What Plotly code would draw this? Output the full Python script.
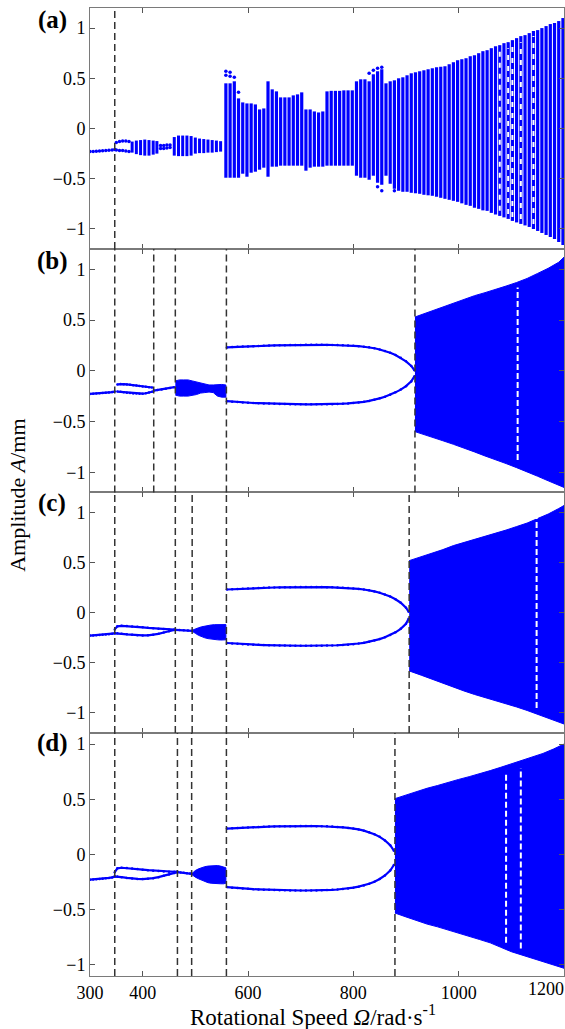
import plotly.graph_objects as go

BLUE = '#0000ff'

# ---------------- panel (a) data ----------------
a_p1_w = [300, 306, 312, 318, 324, 330, 336, 342, 347]
a_p1_y = [-0.23, -0.228, -0.226, -0.224, -0.222, -0.22, -0.217, -0.214, -0.21]
a_p2_w = [350, 356, 362, 368, 374]
a_p2_up = [-0.14, -0.13, -0.125, -0.125, -0.13]
a_p2_lo = [-0.215, -0.22, -0.22, -0.225, -0.23]
a_q_w = [434, 440, 446, 452]
a_q_up = [-0.17, -0.168, -0.165, -0.165]
a_q_lo = [-0.2, -0.198, -0.195, -0.19]
a_col1_w = [380, 388, 396, 404, 412, 420, 427]
a_col1_hi = [-0.13, -0.12, -0.115, -0.11, -0.115, -0.12, -0.125]
a_col1_lo = [-0.24, -0.255, -0.265, -0.27, -0.27, -0.26, -0.25]
a_col2_w = [460, 468, 476, 484, 492, 500, 508, 516, 524, 532, 540, 548]
a_col2_hi = [-0.085, -0.07, -0.07, -0.07, -0.075, -0.09, -0.10, -0.105, -0.11, -0.115, -0.12, -0.126]
a_col2_lo = [-0.27, -0.275, -0.275, -0.275, -0.27, -0.25, -0.245, -0.245, -0.24, -0.24, -0.235, -0.23]
a_col3_w = [558, 566, 574, 582, 590, 598, 606, 614, 622, 630, 638, 646, 654, 662, 670,
            678, 686, 694, 702, 710, 718, 726, 734, 742, 750, 758, 766, 774, 782, 790,
            798, 806, 814, 822, 830, 838, 846, 854, 862, 870, 878, 886, 894, 902, 910,
            918, 926, 934, 942, 950, 958, 966, 974, 982, 990, 998, 1006, 1014, 1022, 1030,
            1038, 1046, 1054, 1062, 1070, 1078, 1086, 1094, 1102, 1110, 1118, 1126, 1134, 1142, 1150,
            1158, 1166, 1174, 1182, 1190, 1198]
a_col3_hi = [0.45, 0.45, 0.47, 0.30, 0.26, 0.25, 0.25, 0.24, 0.19, 0.20, 0.47, 0.39, 0.37, 0.31, 0.31,
             0.31, 0.33, 0.34, 0.36, 0.19, 0.19, 0.17, 0.16, 0.17, 0.37, 0.375, 0.375, 0.375, 0.38, 0.38,
             0.38, 0.47, 0.49, 0.49, 0.47, 0.54, 0.57, 0.59, 0.45, 0.47, 0.48, 0.50, 0.51, 0.53, 0.55,
             0.56, 0.57, 0.58, 0.59, 0.60, 0.61, 0.615, 0.62, 0.64, 0.66, 0.68, 0.69, 0.70, 0.72, 0.73,
             0.75, 0.77, 0.78, 0.80, 0.82, 0.83, 0.85, 0.86, 0.88, 0.90, 0.92, 0.93, 0.95, 0.97, 0.98,
             1.00, 1.02, 1.04, 1.05, 1.07, 1.10]
a_col3_lo = [-0.49, -0.49, -0.49, -0.49, -0.45, -0.48, -0.44, -0.43, -0.41, -0.39, -0.48, -0.38, -0.38, -0.37, -0.37,
             -0.37, -0.37, -0.37, -0.37, -0.42, -0.39, -0.38, -0.38, -0.38, -0.37, -0.37, -0.37, -0.37, -0.37, -0.37,
             -0.37, -0.47, -0.49, -0.49, -0.51, -0.47, -0.54, -0.56, -0.47, -0.55, -0.60, -0.62, -0.63, -0.63, -0.64,
             -0.645, -0.65, -0.66, -0.665, -0.67, -0.68, -0.69, -0.70, -0.71, -0.72, -0.73, -0.745, -0.76, -0.77, -0.79,
             -0.80, -0.815, -0.82, -0.84, -0.855, -0.87, -0.885, -0.90, -0.92, -0.935, -0.95, -0.965, -0.98, -1.00, -1.02,
             -1.04, -1.06, -1.08, -1.10, -1.13, -1.16]
a_out_w = [558, 558, 566, 566, 574, 582, 830, 838, 846, 854, 846, 854, 878]
a_out_y = [0.57, 0.53, 0.56, 0.52, 0.51, 0.36, 0.55, 0.58, 0.60, 0.61, -0.58, -0.62, -0.62]
a_gap_w = [1078, 1094, 1102, 1118, 1142]
a_gap_lo = [-0.82, -0.85, -0.88, -0.90, -0.95]
a_gap_hi = [0.78, 0.80, 0.84, 0.86, 0.92]
a_dash = [347]

# ---------------- panel (b) data ----------------
b_p1_w = [300, 306, 312, 318, 324, 330, 336, 342, 347]
b_p1_y = [-0.228, -0.226, -0.224, -0.222, -0.22, -0.217, -0.214, -0.21, -0.205]
b_br_w = [352, 358, 364, 370, 376, 382, 388, 394, 400, 406, 412, 418]
b_br_up = [-0.135, -0.13, -0.132, -0.135, -0.138, -0.142, -0.146, -0.15, -0.154, -0.158, -0.162, -0.165]
b_br_lo = [-0.205, -0.208, -0.212, -0.216, -0.22, -0.223, -0.225, -0.226, -0.226, -0.222, -0.215, -0.207]
b_ln_w = [421, 428, 436, 444, 452, 460]
b_ln_y = [-0.195, -0.19, -0.185, -0.178, -0.17, -0.162]
b_blob_w = [462, 470, 478, 486, 494, 502, 510, 518, 526, 534, 542, 550, 558]
b_blob_hi = [-0.10, -0.09, -0.09, -0.09, -0.10, -0.11, -0.12, -0.13, -0.14, -0.14, -0.135, -0.135, -0.14]
b_blob_lo = [-0.24, -0.25, -0.25, -0.25, -0.245, -0.235, -0.22, -0.215, -0.21, -0.215, -0.25, -0.26, -0.26]
b_el_w = [560, 570, 580, 590, 600, 610, 620, 630, 640, 650, 660, 670, 680, 690, 700, 710, 720, 730, 740,
          750, 760, 770, 780, 790, 800, 810, 820, 830, 840, 850, 860, 870, 880, 890, 900, 910, 916]
b_el_up = [0.230, 0.233, 0.236, 0.238, 0.240, 0.242, 0.244, 0.246, 0.248, 0.250, 0.251, 0.252, 0.253, 0.254,
           0.255, 0.256, 0.256, 0.256, 0.256, 0.255, 0.254, 0.253, 0.251, 0.249, 0.246, 0.242, 0.237, 0.231,
           0.222, 0.210, 0.195, 0.177, 0.155, 0.127, 0.093, 0.048, 0.005]
b_el_lo = [-0.300, -0.305, -0.309, -0.312, -0.315, -0.318, -0.320, -0.322, -0.324, -0.326, -0.327, -0.328,
           -0.329, -0.330, -0.330, -0.331, -0.331, -0.331, -0.330, -0.330, -0.329, -0.327, -0.325, -0.322,
           -0.318, -0.313, -0.306, -0.297, -0.286, -0.272, -0.256, -0.236, -0.213, -0.186, -0.152, -0.105, -0.055]
b_ch_w = [917, 930, 950, 970, 990, 1010, 1030, 1050, 1070, 1090, 1110, 1130, 1150, 1170, 1190, 1200]
b_ch_hi = [0.53, 0.555, 0.59, 0.63, 0.67, 0.705, 0.74, 0.77, 0.80, 0.835, 0.87, 0.91, 0.96, 1.01, 1.07, 1.12]
b_ch_lo = [-0.60, -0.62, -0.655, -0.69, -0.725, -0.76, -0.80, -0.84, -0.88, -0.915, -0.955, -0.995,
           -1.04, -1.085, -1.13, -1.15]
b_gap_w = [1112]
b_gap_lo = [-0.88]
b_gap_hi = [0.82]
b_dash = [347, 421, 462, 559, 917]

# ---------------- panel (c) data ----------------
c_p1_w = [300, 306, 312, 318, 324, 330, 336, 342, 347]
c_p1_y = [-0.228, -0.226, -0.224, -0.222, -0.22, -0.217, -0.214, -0.21, -0.205]
c_br_w = [347, 352, 360, 370, 380, 390, 400, 410, 420, 430, 440, 450, 460]
c_br_up = [-0.166, -0.135, -0.13, -0.132, -0.136, -0.14, -0.145, -0.15, -0.155, -0.16, -0.163, -0.166, -0.168]
c_br_lo = [-0.205, -0.205, -0.21, -0.215, -0.22, -0.224, -0.226, -0.225, -0.22, -0.21, -0.197, -0.184, -0.172]
c_ln_w = [462, 470, 478, 486, 494]
c_ln_y = [-0.17, -0.172, -0.175, -0.177, -0.18]
c_blob_w = [494, 500, 506, 512, 518, 524, 530, 536, 542, 548, 554, 558]
c_blob_hi = [-0.175, -0.16, -0.15, -0.14, -0.132, -0.126, -0.122, -0.119, -0.117, -0.116, -0.116, -0.118]
c_blob_lo = [-0.185, -0.205, -0.225, -0.24, -0.25, -0.258, -0.264, -0.268, -0.27, -0.272, -0.272, -0.27]
c_el_w = [560, 570, 580, 590, 600, 610, 620, 630, 640, 650, 660, 670, 680, 690, 700, 710, 720, 730, 740,
          750, 760, 770, 780, 790, 800, 810, 820, 830, 840, 850, 860, 870, 880, 890, 900, 905]
c_el_up = [0.232, 0.235, 0.238, 0.240, 0.243, 0.245, 0.247, 0.249, 0.251, 0.252, 0.253, 0.254, 0.255, 0.256,
           0.256, 0.257, 0.257, 0.257, 0.256, 0.255, 0.254, 0.252, 0.250, 0.247, 0.243, 0.238, 0.232, 0.224,
           0.213, 0.200, 0.183, 0.162, 0.135, 0.100, 0.050, 0.010]
c_el_lo = [-0.302, -0.306, -0.310, -0.313, -0.316, -0.318, -0.320, -0.322, -0.324, -0.325, -0.326, -0.327,
           -0.328, -0.328, -0.329, -0.329, -0.329, -0.329, -0.328, -0.327, -0.326, -0.324, -0.321, -0.318,
           -0.313, -0.307, -0.300, -0.290, -0.278, -0.263, -0.245, -0.222, -0.195, -0.160, -0.110, -0.060]
c_ch_w = [906, 930, 950, 970, 990, 1010, 1030, 1050, 1070, 1090, 1110, 1130, 1150, 1170, 1190, 1200]
c_ch_hi = [0.52, 0.56, 0.595, 0.63, 0.67, 0.70, 0.73, 0.765, 0.795, 0.825, 0.86, 0.895, 0.94, 0.985, 1.04, 1.07]
c_ch_lo = [-0.58, -0.625, -0.665, -0.70, -0.74, -0.78, -0.815, -0.85, -0.88, -0.91, -0.94, -0.975,
           -1.01, -1.05, -1.09, -1.11]
c_gap_w = [1148]
c_gap_lo = [-0.95]
c_gap_hi = [0.95]
c_dash = [347, 462, 494, 559, 906]

# ---------------- panel (d) data ----------------
d_p1_w = [300, 306, 312, 318, 324, 330, 336, 342, 347]
d_p1_y = [-0.228, -0.226, -0.224, -0.222, -0.22, -0.216, -0.212, -0.207, -0.2]
d_br_w = [347, 352, 360, 370, 380, 390, 400, 410, 420, 430, 440, 450, 460, 466]
d_br_up = [-0.16, -0.125, -0.12, -0.123, -0.127, -0.132, -0.137, -0.142, -0.146, -0.15, -0.153, -0.155, -0.156, -0.155]
d_br_lo = [-0.2, -0.2, -0.205, -0.212, -0.218, -0.221, -0.222, -0.22, -0.214, -0.205, -0.193, -0.18, -0.167, -0.16]
d_ln_w = [466, 472, 478, 484, 490, 493]
d_ln_y = [-0.16, -0.163, -0.166, -0.169, -0.172, -0.175]
d_blob_w = [493, 500, 506, 512, 518, 524, 530, 536, 542, 548, 554, 558]
d_blob_hi = [-0.175, -0.145, -0.13, -0.118, -0.11, -0.105, -0.102, -0.10, -0.10, -0.105, -0.11, -0.12]
d_blob_lo = [-0.18, -0.205, -0.22, -0.235, -0.245, -0.255, -0.26, -0.262, -0.265, -0.265, -0.265, -0.26]
d_el_w = [560, 570, 580, 590, 600, 610, 620, 630, 640, 650, 660, 670, 680, 690, 700, 710, 720, 730, 740,
          750, 760, 770, 780, 790, 800, 810, 820, 830, 840, 850, 860, 870, 877]
d_el_up = [0.235, 0.238, 0.241, 0.243, 0.245, 0.247, 0.249, 0.251, 0.253, 0.254, 0.255, 0.256, 0.257, 0.257,
           0.258, 0.258, 0.258, 0.257, 0.256, 0.255, 0.253, 0.250, 0.246, 0.241, 0.235, 0.227, 0.216, 0.202,
           0.184, 0.160, 0.128, 0.085, 0.035]
d_el_lo = [-0.295, -0.300, -0.304, -0.308, -0.311, -0.314, -0.316, -0.318, -0.320, -0.322, -0.323, -0.324,
           -0.325, -0.325, -0.326, -0.326, -0.326, -0.325, -0.324, -0.322, -0.320, -0.317, -0.313, -0.307,
           -0.300, -0.291, -0.280, -0.265, -0.246, -0.222, -0.190, -0.145, -0.095]
d_ch_w = [879, 900, 920, 940, 960, 980, 1000, 1020, 1040, 1060, 1080, 1100, 1120, 1140, 1160, 1180, 1200]
d_ch_hi = [0.506, 0.54, 0.57, 0.60, 0.625, 0.655, 0.68, 0.705, 0.73, 0.76, 0.79, 0.82, 0.85, 0.88, 0.915, 0.955, 1.0]
d_ch_lo = [-0.53, -0.565, -0.60, -0.63, -0.655, -0.685, -0.71, -0.74, -0.77, -0.80, -0.84, -0.88, -0.91,
           -0.94, -0.97, -1.0, -1.03]
d_gap_w = [1090, 1118]
d_gap_lo = [-0.8, -0.85]
d_gap_hi = [0.75, 0.78]
d_dash = [347, 466, 493, 559, 879]

x_ticks = [300, 400, 600, 800, 1000]
x_ticktext = ['300', '400', '600', '800', '1000']
x_last_label = '1200'
y_ticks = [-1, -0.5, 0, 0.5, 1]
y_ticktext = ['\u22121', '\u22120.5', '0', '0.5', '1']
panel_labels = ['(a)', '(b)', '(c)', '(d)']
y_ranges = [[-1.2, 1.2], [-1.2, 1.2], [-1.2, 1.2], [-1.1, 1.1]]

fig = go.Figure()


def segs(ws, lo, hi):
    xs, ys = [], []
    for w, l, h in zip(ws, lo, hi):
        xs += [w, w, None]
        ys += [l, h, None]
    return xs, ys


def add_cols(ws, lo, hi, k, width, color=BLUE, dash=None):
    xs, ys = segs(ws, lo, hi)
    fig.add_trace(go.Scatter(x=xs, y=ys, mode='lines', xaxis='x' + k, yaxis='y' + k,
                             line=dict(color=color, width=width, dash=dash), hoverinfo='skip',
                             showlegend=False))


def add_dots(ws, ys, k, size=3.5):
    fig.add_trace(go.Scatter(x=ws, y=ys, mode='markers', xaxis='x' + k, yaxis='y' + k,
                             marker=dict(color=BLUE, size=size), showlegend=False, hoverinfo='skip'))


def add_line(ws, ys, k, width=2.2):
    fig.add_trace(go.Scatter(x=ws, y=ys, mode='lines+markers', xaxis='x' + k, yaxis='y' + k,
                             line=dict(color=BLUE, width=width), marker=dict(color=BLUE, size=2.5),
                             showlegend=False, hoverinfo='skip'))


def add_fill(ws, lo, hi, k):
    fig.add_trace(go.Scatter(x=ws + ws[::-1], y=hi + lo[::-1], mode='lines', fill='toself',
                             fillcolor=BLUE, line=dict(color=BLUE, width=1),
                             xaxis='x' + k, yaxis='y' + k, showlegend=False, hoverinfo='skip'))


# panel a  (axis suffix '')
ka = ''
add_dots(a_p1_w, a_p1_y, ka)
add_dots(a_p2_w, a_p2_up, ka)
add_dots(a_p2_w, a_p2_lo, ka)
add_dots(a_q_w, a_q_up, ka)
add_dots(a_q_w, a_q_lo, ka)
add_cols(a_col1_w, a_col1_lo, a_col1_hi, ka, 3)
add_cols(a_col2_w, a_col2_lo, a_col2_hi, ka, 3)
add_cols(a_col3_w, a_col3_lo, a_col3_hi, ka, 3.2)
add_dots(a_out_w, a_out_y, ka, size=3.5)
add_cols(a_gap_w, a_gap_lo, a_gap_hi, ka, 2, color='white', dash='5px,6px')

# panels b, c, d
for k, p1w, p1y, brw, bru, brl, lnw, lny, blw, blh, bll, elw, elu, ell, chw, chh, chl, gw, gl, gh in [
    ('2', b_p1_w, b_p1_y, b_br_w, b_br_up, b_br_lo, b_ln_w, b_ln_y, b_blob_w, b_blob_hi, b_blob_lo,
     b_el_w, b_el_up, b_el_lo, b_ch_w, b_ch_hi, b_ch_lo, b_gap_w, b_gap_lo, b_gap_hi),
    ('3', c_p1_w, c_p1_y, c_br_w, c_br_up, c_br_lo, c_ln_w, c_ln_y, c_blob_w, c_blob_hi, c_blob_lo,
     c_el_w, c_el_up, c_el_lo, c_ch_w, c_ch_hi, c_ch_lo, c_gap_w, c_gap_lo, c_gap_hi),
    ('4', d_p1_w, d_p1_y, d_br_w, d_br_up, d_br_lo, d_ln_w, d_ln_y, d_blob_w, d_blob_hi, d_blob_lo,
     d_el_w, d_el_up, d_el_lo, d_ch_w, d_ch_hi, d_ch_lo, d_gap_w, d_gap_lo, d_gap_hi)]:
    add_line(p1w, p1y, k)
    add_line(brw, bru, k)
    add_line(brw, brl, k)
    add_line(lnw, lny, k)
    add_fill(blw, bll, blh, k)
    add_line(elw, elu, k)
    add_line(elw, ell, k)
    add_fill(chw, chl, chh, k)
    add_cols(gw, gl, gh, k, 2, color='white', dash='6px,3px')

# dashed bifurcation markers
shapes = []
for k, dl in [('', a_dash), ('2', b_dash), ('3', c_dash), ('4', d_dash)]:
    for w in dl:
        shapes.append(dict(type='line', xref='x' + k, yref='y' + k + ' domain', x0=w, x1=w, y0=0, y1=1,
                           line=dict(color='#333333', width=1.5, dash='7px,4px'), layer='above'))

FONT = 'Liberation Serif'
domains = [[0.751, 1.0], [0.4995, 0.751], [0.251, 0.4995], [0.0, 0.251]]
axis_common = dict(showline=True, linecolor='#7a7a7a', linewidth=1, mirror='ticks', ticks='inside',
                   ticklen=5, tickcolor='#555555', showgrid=False, zeroline=False)
layout = dict(width=565, height=1029, margin=dict(l=90, r=1, t=8, b=53),
              plot_bgcolor='white', paper_bgcolor='white', showlegend=False,
              font=dict(family=FONT, size=18, color='black'), shapes=shapes)
for i, k in enumerate(['', '2', '3', '4']):
    layout['xaxis' + k] = dict(axis_common, range=[300, 1200], domain=[0, 1], anchor='y' + k,
                               tickvals=x_ticks, ticktext=x_ticktext, showticklabels=(k == '4'),
                               tickfont=dict(family=FONT, size=18))
    layout['yaxis' + k] = dict(axis_common, range=y_ranges[i], domain=domains[i], anchor='x' + k,
                               tickvals=y_ticks, ticktext=y_ticktext,
                               tickfont=dict(family=FONT, size=18))

ann = []
label_y = [0.9876, 0.7386, 0.4886, 0.2407]
for lab, yy in zip(panel_labels, label_y):
    ann.append(dict(text='<b>' + lab + '</b>', xref='paper', yref='paper', x=-0.08, y=yy,
                    showarrow=False, font=dict(family=FONT, size=25, color='black'),
                    xanchor='center', yanchor='middle'))
ann.append(dict(text=x_last_label, xref='paper', yref='paper', x=0.961, y=-0.0135,
                showarrow=False, font=dict(family=FONT, size=18, color='black'),
                xanchor='center', yanchor='middle'))
ann.append(dict(text='Amplitude <i>A</i>/mm', xref='paper', yref='paper', x=-0.152, y=0.497,
                textangle=-90, showarrow=False, font=dict(family=FONT, size=22, color='black'),
                xanchor='center', yanchor='middle'))
ann.append(dict(text='Rotational Speed <i>\u03a9</i>/rad\u00b7s<sup>-1</sup>', xref='paper', yref='paper',
                x=0.4705, y=-0.041, showarrow=False, font=dict(family=FONT, size=23, color='black'),
                xanchor='center', yanchor='middle'))
layout['annotations'] = ann

fig.update_layout(**layout)
fig.write_html('out.html')
